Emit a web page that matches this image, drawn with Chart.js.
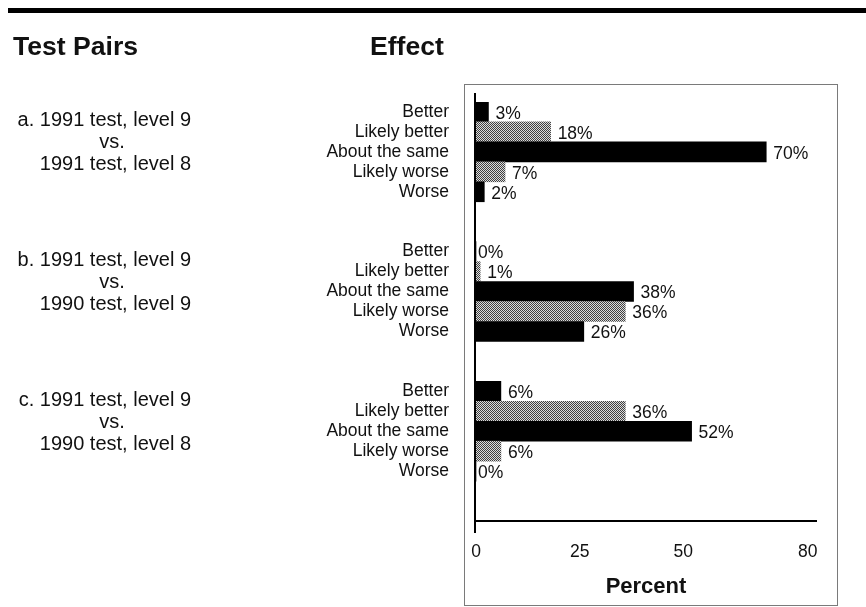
<!DOCTYPE html>
<html>
<head>
<meta charset="utf-8">
<title>Test Pairs – Effect</title>
<script src="https://cdn.jsdelivr.net/npm/chart.js@4/dist/chart.umd.min.js"></script>
<style>
  html, body { margin: 0; padding: 0; background: #fff; }
  #wrap { width: 866px; height: 607px; position: relative; }
</style>
</head>
<body>
<div id="wrap"><canvas id="chart" width="866" height="607"></canvas></div>
<script>
// Effect categories shown for every test pair
const effects = ['Better', 'Likely better', 'About the same', 'Likely worse', 'Worse'];

// Test pair descriptions (three lines each)
const pairA = ['a. 1991 test, level 9', 'vs.', '1991 test, level 8'];
const pairB = ['b. 1991 test, level 9', 'vs.', '1990 test, level 9'];
const pairC = ['c. 1991 test, level 9', 'vs.', '1990 test, level 8'];

// Percent of comparisons in each effect category
const percentA = [3, 18, 70, 7, 2];
const percentB = [0, 1, 38, 36, 26];
const percentC = [6, 36, 52, 6, 0];

// Percent axis ticks
const percentTicks = [0, 25, 50, 80];

const FONT = "'Liberation Sans', Arial, Helvetica, sans-serif";
const INK = '#111';

// Rows: each pair's five effects followed by two empty spacer rows
const groups = [pairA, pairB, pairC];
const groupValues = [percentA, percentB, percentC];
const SPACERS = 2;
const rowLabels = [];
const rowValues = [];
groupValues.forEach(vals => {
  effects.forEach((e, i) => { rowLabels.push(e); rowValues.push(vals[i]); });
  for (let s = 0; s < SPACERS; s++) { rowLabels.push(''); rowValues.push(null); }
});

// Fine grey screen used for the "Likely" bars
function makeScreen() {
  const c = document.createElement('canvas');
  c.width = 2; c.height = 2;
  const g = c.getContext('2d');
  g.fillStyle = '#dcdcdc'; g.fillRect(0, 0, 2, 2);
  g.fillStyle = '#404040'; g.fillRect(0, 0, 1, 1); g.fillRect(1, 1, 1, 1);
  return g.createPattern(c, 'repeat');
}
const screen = makeScreen();

const decorations = {
  id: 'decorations',
  afterDraw(chart) {
    const { ctx, chartArea: area, scales } = chart;
    const y = scales.y;
    ctx.save();

    // heavy rule across the top
    ctx.fillStyle = '#000';
    ctx.fillRect(8, 8, 858, 5);

    // column headings
    ctx.fillStyle = INK;
    ctx.font = `bold 26.6px ${FONT}`;
    ctx.textBaseline = 'alphabetic';
    ctx.textAlign = 'left';
    ctx.fillText('Test Pairs', 13, 55);
    ctx.fillText('Effect', 370, 55);

    // frame around the plot panel
    ctx.strokeStyle = '#7a7a7a';
    ctx.lineWidth = 1;
    ctx.strokeRect(area.left - 11.5, area.top - 17.5, area.right - area.left + 33, chart.height - area.top + 16);

    // vertical axis line (runs a little past the horizontal axis)
    ctx.strokeStyle = '#000';
    ctx.lineWidth = 2;
    ctx.beginPath();
    ctx.moveTo(area.left - 1, area.top - 9);
    ctx.lineTo(area.left - 1, area.bottom + 12);
    ctx.stroke();

    // pair descriptions, centred on each group's upper-middle rows
    ctx.font = `20px ${FONT}`;
    ctx.textBaseline = 'middle';
    groups.forEach((lines, g) => {
      const base = g * (effects.length + SPACERS);
      const mid = (y.getPixelForValue(base + 1) + y.getPixelForValue(base + 2)) / 2 + 1;
      const lh = 22;
      ctx.textAlign = 'right';
      ctx.fillText(lines[0], 191, mid - lh);
      ctx.textAlign = 'center';
      ctx.fillText(lines[1], 112, mid);
      ctx.textAlign = 'right';
      ctx.fillText(lines[2], 191, mid + lh);
    });

    // value labels at the end of each bar
    const meta = chart.getDatasetMeta(0);
    ctx.font = `17.5px ${FONT}`;
    ctx.textAlign = 'left';
    ctx.textBaseline = 'middle';
    meta.data.forEach((bar, i) => {
      const v = rowValues[i];
      if (v === null || v === undefined) return;
      const x = v === 0 ? area.left + 2 : bar.x + 7;
      ctx.fillText(v + '%', x, bar.y + 2);
    });

    ctx.restore();
  }
};

new Chart(document.getElementById('chart'), {
  type: 'bar',
  data: {
    labels: rowLabels,
    datasets: [{
      data: rowValues,
      backgroundColor: c => (rowLabels[c.dataIndex] || '').startsWith('Likely') ? screen : '#000',
      borderWidth: 0,
      barPercentage: 1,
      categoryPercentage: 1
    }]
  },
  options: {
    indexAxis: 'y',
    responsive: false,
    animation: false,
    devicePixelRatio: 1,
    layout: { padding: { top: 102, right: 50, bottom: 0, left: 0 } },
    plugins: { legend: { display: false }, tooltip: { enabled: false } },
    scales: {
      x: {
        type: 'linear',
        min: 0,
        max: 82,
        afterBuildTicks: s => { s.ticks = percentTicks.map(v => ({ value: v })); },
        afterFit: s => { s.height = 86; },
        grid: { display: false, drawTicks: false },
        border: { display: true, color: '#000', width: 2 },
        ticks: { color: INK, font: { family: FONT, size: 17.5 }, padding: 21, maxRotation: 0 },
        title: {
          display: true,
          text: 'Percent',
          color: INK,
          font: { family: FONT, size: 22, weight: 'bold' },
          padding: { top: 0, bottom: 7 }
        }
      },
      y: {
        type: 'category',
        afterFit: s => { s.width = 476; },
        grid: { display: false, drawTicks: false },
        border: { display: false },
        ticks: { color: INK, font: { family: FONT, size: 17.5 }, padding: 27, autoSkip: false }
      }
    }
  },
  plugins: [decorations]
});
</script>
</body>
</html>
